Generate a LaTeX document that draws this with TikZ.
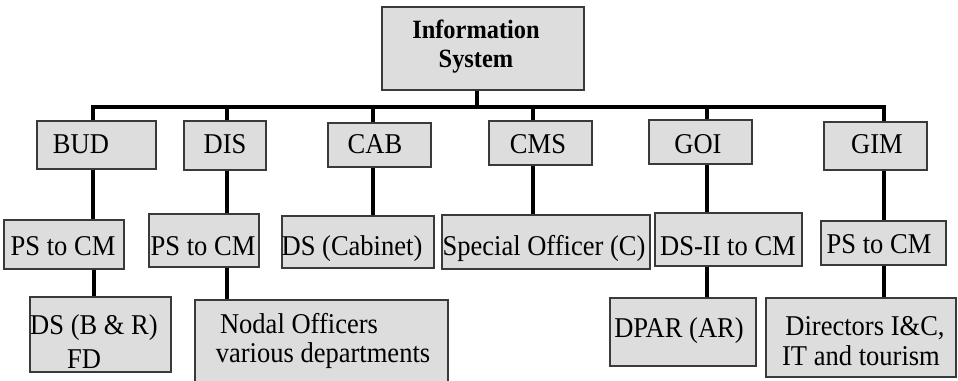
\documentclass[tikz,border=0pt]{standalone}
\usepackage{fontspec}
\usepackage{graphicx}
\setmainfont{Liberation Serif}
\usetikzlibrary{fit}
\definecolor{boxgray}{HTML}{DDDDDD}
\definecolor{boxline}{HTML}{3A3A3A}
% slightly tall lettering
\newcommand\talltext[1]{\scalebox{1}[1.08]{#1}}
\begin{document}
\begin{tikzpicture}[x=0.75pt,y=-0.75pt,
  box/.style={draw=boxline,fill=boxgray,line width=0.9pt,inner sep=0pt},
  conn/.style={line width=3pt,line join=miter},
  lbl/.style={inner sep=0pt,anchor=base,font=\fontsize{19.9}{28}\selectfont},
  headlbl/.style={inner sep=0pt,anchor=base,font=\fontsize{18.3}{28}\selectfont\bfseries}]
\useasboundingbox (0,0) rectangle (958,380);
\clip (0,0) rectangle (958,380);

% boxes
\node[box,fit={(382,7) (584,90)}] (info) {};
\node[box,fit={(37,121) (156,169)}] (bud) {};
\node[box,fit={(184,121) (266,170)}] (dis) {};
\node[box,fit={(328,123) (431,167)}] (cab) {};
\node[box,fit={(489,121) (592,165)}] (cms) {};
\node[box,fit={(649,120) (752,164)}] (goi) {};
\node[box,fit={(824,122) (927,170)}] (gim) {};
\node[box,fit={(4,220) (124,269)}] (psbud) {};
\node[box,fit={(149,214) (259,267)}] (psdis) {};
\node[box,fit={(282,216) (434,268)}] (dscab) {};
\node[box,fit={(442,215) (650,269)}] (spoff) {};
\node[box,fit={(655,213) (802,266)}] (dstwo) {};
\node[box,fit={(821,221) (946,265)}] (psgim) {};
\node[box,fit={(30,297) (171,372)}] (dsbr) {};
\node[box,fit={(195,300) (448,392)}] (nodal) {};
\node[box,fit={(610,298) (756,366)}] (dpar) {};
\node[box,fit={(766,298) (956,377)}] (dirs) {};

% texts
\node[headlbl] (t-info1) at (476,38) {\talltext{Information}};
\node[headlbl] (t-info2) at (476,67) {\talltext{System}};
\node[lbl] (t-bud) at (81,153) {\talltext{BUD}};
\node[lbl] (t-dis) at (225,153) {\talltext{DIS}};
\node[lbl] (t-cab) at (375,153) {\talltext{CAB}};
\node[lbl] (t-cms) at (538,153) {\talltext{CMS}};
\node[lbl] (t-goi) at (698,153) {\talltext{GOI}};
\node[lbl] (t-gim) at (877,153) {\talltext{GIM}};
\node[lbl] (t-psbud) at (63,255) {\talltext{PS to CM}};
\node[lbl] (t-psdis) at (203,255) {\talltext{PS to CM}};
\node[lbl] (t-dscab) at (352,255) {\talltext{DS (Cabinet)}};
\node[lbl] (t-spoff) at (544,255) {\talltext{Special Officer (C)}};
\node[lbl] (t-dstwo) at (728,255) {\talltext{DS-II to CM}};
\node[lbl] (t-psgim) at (879,253) {\talltext{PS to CM}};
\node[lbl] (t-dsbr1) at (94,334) {\talltext{DS (B \& R)}};
\node[lbl] (t-dsbr2) at (84,368) {\talltext{FD}};
\node[lbl] (t-nodal1) at (299,333) {\talltext{Nodal Officers}};
\node[lbl] (t-nodal2) at (323,362) {\talltext{various departments}};
\node[lbl] (t-dpar) at (679,337) {\talltext{DPAR (AR)}};
\node[lbl] (t-dirs1) at (865,335) {\talltext{Directors I\&C,}};
\node[lbl] (t-dirs2) at (861,365) {\talltext{IT and tourism}};

% junctions on the bus
\coordinate (jinfo) at (477,107);
\coordinate (jbud) at (93,107);
\coordinate (jdis) at (227,107);
\coordinate (jcab) at (373,107);
\coordinate (jcms) at (533,107);
\coordinate (jgoi) at (707,107);
\coordinate (jgim) at (884,107);
\coordinate (jbr) at (94,269);

% bus and drops to the departments
\draw[conn] (jinfo |- info.south) -- (jinfo);
\draw[conn] (jbud |- bud.north) -- (jbud) -- (jgim) -- (jgim |- gim.north);
\foreach \j/\b in {jdis/dis,jcab/cab,jcms/cms,jgoi/goi}
  \draw[conn] (\j) -- (\j |- \b.north);

% second and third levels
\draw[conn] (jbud |- bud.south) -- (jbud |- psbud.north);
\draw[conn] (jbr |- psbud.south) -- (jbr |- dsbr.north);
\draw[conn] (jdis |- dis.south) -- (jdis |- psdis.north);
\draw[conn] (jdis |- psdis.south) -- (jdis |- nodal.north);
\draw[conn] (jcab |- cab.south) -- (jcab |- dscab.north);
\draw[conn] (jcms |- cms.south) -- (jcms |- spoff.north);
\draw[conn] (jgoi |- goi.south) -- (jgoi |- dstwo.north);
\draw[conn] (jgoi |- dstwo.south) -- (jgoi |- dpar.north);
\draw[conn] (jgim |- gim.south) -- (jgim |- psgim.north);
\draw[conn] (jgim |- psgim.south) -- (jgim |- dirs.north);
\end{tikzpicture}
\end{document}
